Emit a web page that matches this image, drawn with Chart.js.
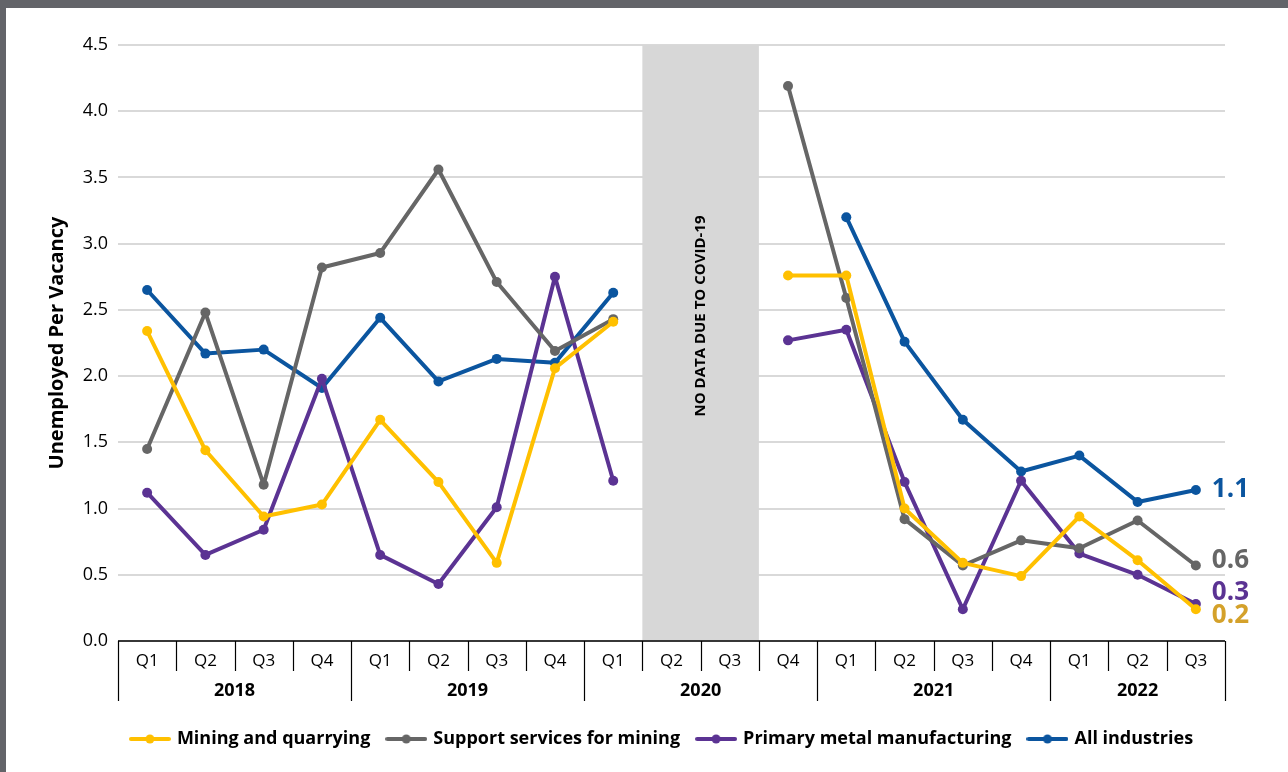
<!DOCTYPE html>
<html>
<head>
<meta charset="utf-8">
<title>Unemployed per vacancy</title>
<script src="https://cdn.jsdelivr.net/npm/chart.js@4"></script>
<style>
  html, body { margin: 0; padding: 0; }
  body { width: 1288px; height: 772px; background: #636469; position: relative; overflow: hidden; }
  #frame { position: absolute; left: 6px; top: 8px; width: 1282px; height: 764px; background: #ffffff; }
  #chart { display: block; }
</style>
</head>
<body>
<div id="frame"><canvas id="chart" width="1282" height="764"></canvas></div>
<script>
// Quarter labels along the axis, and the years that group them
const quarters = ['Q1','Q2','Q3','Q4', 'Q1','Q2','Q3','Q4', 'Q1','Q2','Q3','Q4', 'Q1','Q2','Q3','Q4', 'Q1','Q2','Q3'];
const years = ['2018', '2019', '2020', '2021', '2022'];
const quartersPerYear = [4, 4, 4, 4, 3];
// 2020 Q2 and Q3 have no data (COVID-19)
const noDataQuarters = ['2020 Q2', '2020 Q3'];

// Unemployed persons per vacancy
const miningQuarrying   = [2.34, 1.44, 0.94, 1.03, 1.67, 1.20, 0.59, 2.06, 2.41, null, null, 2.76, 2.76, 1.00, 0.59, 0.49, 0.94, 0.61, 0.24];
const supportServices   = [1.45, 2.48, 1.18, 2.82, 2.93, 3.56, 2.71, 2.19, 2.43, null, null, 4.19, 2.59, 0.92, 0.57, 0.76, 0.70, 0.91, 0.57];
const primaryMetal      = [1.12, 0.65, 0.84, 1.98, 0.65, 0.43, 1.01, 2.75, 1.21, null, null, 2.27, 2.35, 1.20, 0.24, 1.21, 0.66, 0.50, 0.28];
const allIndustries     = [2.65, 2.17, 2.20, 1.91, 2.44, 1.96, 2.13, 2.10, 2.63, null, null, null, 3.20, 2.26, 1.67, 1.28, 1.40, 1.05, 1.14];

const seriesNames = ['Mining and quarrying', 'Support services for mining', 'Primary metal manufacturing', 'All industries'];

// Category keys like "2018 Q1"
const categories = [];
years.forEach((y, i) => {
  for (let q = 0; q < quartersPerYear[i]; q++) categories.push(y + ' Q' + (q + 1));
});

const FONT = "'Open Sans', 'Liberation Sans', sans-serif";
const colors = ['#FFC000', '#666666', '#5B3393', '#0B559F'];
const endLabelColors = ['#D4A12A', '#666666', '#5B3393', '#0B559F'];
// vertical nudge of the end-of-line value labels so they do not collide
const endLabelNudge = [6, -5, -11, 0];
// the legend is centred under the plot rather than the whole canvas
const LEGEND_SHIFT = 47;

// Legend marker: a short line with a dot in its middle
function legendMarker(color) {
  const c = document.createElement('canvas');
  c.width = 42; c.height = 12;
  const g = c.getContext('2d');
  g.strokeStyle = color; g.lineWidth = 4; g.lineCap = 'round';
  g.beginPath(); g.moveTo(2, 6); g.lineTo(40, 6); g.stroke();
  g.fillStyle = color;
  g.beginPath(); g.arc(21, 6, 4.5, 0, Math.PI * 2); g.fill();
  return c;
}
const markers = colors.map(legendMarker);

function makeDataset(label, data, color) {
  return {
    label, data,
    borderColor: color, backgroundColor: color,
    borderWidth: 4, pointRadius: 5, pointHoverRadius: 5,
    pointBackgroundColor: color, pointBorderColor: color, pointBorderWidth: 0,
    tension: 0, spanGaps: false, fill: false, borderCapStyle: 'round', borderJoinStyle: 'round'
  };
}

const decorations = {
  id: 'decorations',
  afterLayout(chart) {
    if (chart.legend) {
      chart.legend.left += LEGEND_SHIFT;
      chart.legend.right += LEGEND_SHIFT;
    }
  },
  beforeDatasetsDraw(chart) {
    const { ctx, chartArea, scales: { x } } = chart;
    const step = x.getPixelForValue(1) - x.getPixelForValue(0);
    const i0 = categories.indexOf(noDataQuarters[0]);
    const i1 = categories.indexOf(noDataQuarters[noDataQuarters.length - 1]);
    const left = x.getPixelForValue(i0) - step / 2;
    const right = x.getPixelForValue(i1) + step / 2;
    ctx.save();
    ctx.fillStyle = '#D7D7D7';
    ctx.fillRect(left, chartArea.top, right - left, chartArea.bottom - chartArea.top);
    ctx.translate((left + right) / 2, 308);
    ctx.rotate(-Math.PI / 2);
    ctx.fillStyle = '#000';
    ctx.font = 'bold 15px ' + FONT;
    ctx.textAlign = 'center';
    ctx.textBaseline = 'middle';
    ctx.fillText('NO DATA DUE TO COVID-19', 0, 0);
    ctx.restore();
  },
  afterDraw(chart) {
    const { ctx, chartArea, scales: { x, y } } = chart;
    const step = x.getPixelForValue(1) - x.getPixelForValue(0);
    const base = chartArea.bottom;
    ctx.save();
    // axis line
    ctx.strokeStyle = '#000';
    ctx.lineWidth = 1.5;
    ctx.beginPath();
    ctx.moveTo(chartArea.left, base); ctx.lineTo(chartArea.right, base);
    ctx.stroke();
    // separators: short between quarters, long between years
    const yearEdges = [0];
    quartersPerYear.forEach(n => yearEdges.push(yearEdges[yearEdges.length - 1] + n));
    ctx.lineWidth = 1.2;
    for (let i = 0; i <= categories.length; i++) {
      const px = Math.round(x.getPixelForValue(0) - step / 2 + i * step) + 0.5;
      const len = yearEdges.includes(i) ? 60 : 30;
      ctx.beginPath(); ctx.moveTo(px, base); ctx.lineTo(px, base + len); ctx.stroke();
    }
    // quarter labels
    ctx.fillStyle = '#000';
    ctx.textAlign = 'center';
    ctx.textBaseline = 'middle';
    ctx.font = '17px ' + FONT;
    quarters.forEach((q, i) => ctx.fillText(q, x.getPixelForValue(i), base + 20));
    // year labels
    ctx.font = 'bold 18px ' + FONT;
    years.forEach((yr, k) => {
      const a = yearEdges[k], b = yearEdges[k + 1];
      const cx = x.getPixelForValue(0) - step / 2 + (a + b) / 2 * step;
      ctx.fillText(yr, cx, base + 50);
    });
    // y-axis title
    ctx.save();
    ctx.translate(51, (chartArea.top + chartArea.bottom) / 2);
    ctx.rotate(-Math.PI / 2);
    ctx.font = 'bold 20px ' + FONT;
    ctx.fillText('Unemployed Per Vacancy', 0, 0);
    ctx.restore();
    // end-of-line value labels
    ctx.font = 'bold 26px ' + FONT;
    ctx.textAlign = 'left';
    chart.data.datasets.forEach((ds, i) => {
      const last = ds.data.length - 1;
      const v = ds.data[last];
      const px = x.getPixelForValue(last) + 16;
      const py = y.getPixelForValue(v) + endLabelNudge[i];
      ctx.fillStyle = endLabelColors[i];
      ctx.fillText(v.toFixed(1), px, py);
    });
    ctx.restore();
  }
};

new Chart(document.getElementById('chart'), {
  type: 'line',
  data: {
    labels: categories,
    datasets: [
      makeDataset(seriesNames[0], miningQuarrying, colors[0]),
      makeDataset(seriesNames[1], supportServices, colors[1]),
      makeDataset(seriesNames[2], primaryMetal, colors[2]),
      makeDataset(seriesNames[3], allIndustries, colors[3])
    ]
  },
  options: {
    responsive: false,
    animation: false,
    events: [],
    layout: { padding: { top: 37, right: 63, left: 0, bottom: 14 } },
    scales: {
      x: {
        type: 'category',
        offset: true,
        grid: { display: false },
        border: { display: false },
        ticks: { display: false },
        afterFit(scale) { scale.height = 71; }
      },
      y: {
        min: 0, max: 4.5,
        afterFit(scale) { scale.width = 112; },
        border: { display: false },
        grid: { color: '#D9D9D9', lineWidth: 2, drawTicks: false },
        ticks: {
          stepSize: 0.5, padding: 10, color: '#000',
          font: { family: FONT, size: 18 },
          callback: v => v.toFixed(1)
        }
      }
    },
    plugins: {
      tooltip: { enabled: false },
      legend: {
        position: 'bottom',
        labels: {
          usePointStyle: true,
          pointStyleWidth: 36,
          padding: 18,
          color: '#000',
          font: { family: FONT, size: 18, weight: 'bold' },
          generateLabels(chart) {
            const items = Chart.defaults.plugins.legend.labels.generateLabels(chart);
            items.forEach(it => { it.pointStyle = markers[it.datasetIndex]; });
            return items;
          }
        }
      }
    }
  },
  plugins: [decorations]
});
</script>
</body>
</html>
